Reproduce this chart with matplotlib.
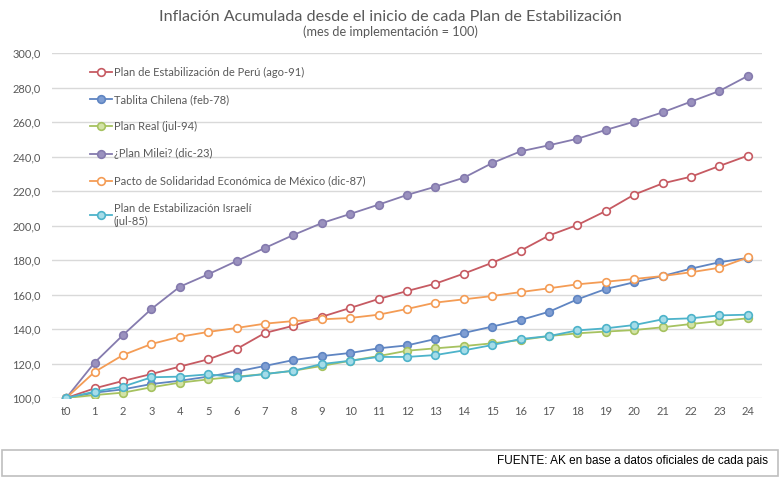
import matplotlib
matplotlib.use("Agg")
import matplotlib.pyplot as plt
from matplotlib.patches import Rectangle

plt.rcParams['font.family'] = ['Lato', 'DejaVu Sans']

months = ["t0"] + [str(i) for i in range(1, 25)]

peru = [100.0, 105.6, 109.9, 113.9, 118.2, 122.4, 128.4, 137.7, 141.9, 147.1, 152.2, 157.4, 162.0,
        166.3, 172.1, 178.4, 185.4, 194.2, 200.3, 208.4, 217.9, 224.4, 228.3, 234.5, 240.5]
chile = [100.0, 103.1, 105.0, 108.1, 110.0, 112.4, 115.3, 118.6, 122.0, 124.3, 126.1, 128.8, 130.5,
         134.2, 137.7, 141.4, 145.2, 150.0, 157.2, 163.2, 167.1, 170.7, 175.0, 178.7, 181.2]
real = [100.0, 101.7, 103.1, 106.2, 108.9, 110.8, 112.4, 113.9, 115.8, 118.6, 121.6, 124.3, 127.4,
        128.8, 130.1, 131.7, 133.6, 135.9, 137.5, 138.5, 139.4, 141.0, 142.9, 144.6, 146.2]
milei = [100.0, 120.5, 136.5, 151.6, 164.5, 171.7, 179.4, 187.0, 194.5, 201.4, 206.7, 212.1, 217.7,
         222.5, 227.7, 236.2, 243.0, 246.5, 250.3, 255.4, 260.2, 265.6, 271.8, 278.0, 286.7]
mexico = [100.0, 115.1, 124.9, 131.3, 135.5, 138.3, 140.6, 143.1, 144.6, 145.6, 146.4, 148.3, 151.6,
          155.3, 157.2, 159.1, 161.4, 163.6, 165.9, 167.4, 169.0, 170.7, 172.9, 175.5, 181.5]
israel = [100.0, 103.7, 106.6, 112.0, 112.4, 113.7, 112.0, 113.9, 115.8, 119.7, 121.6, 123.8, 123.8,
          124.9, 127.6, 130.7, 134.2, 135.9, 139.2, 140.4, 142.3, 145.6, 146.2, 147.9, 148.3]

labels = ["Plan de Estabilización de Perú (ago-91)",
          "Tablita Chilena (feb-78)",
          "Plan Real (jul-94)",
          "¿Plan Milei? (dic-23)",
          "Pacto de Solidaridad Económica de México (dic-87)",
          "Plan de Estabilización Israelí\n(jul-85)"]

series = [peru, chile, real, milei, mexico, israel]
line_colors = ['#C65A62', '#5F85C2', '#A6C260', '#857BAE', '#F49C55', '#4DB3CA']
face_colors = ['#FFFFFF', '#7F9ED3', '#D3E3A6', '#9A91BE', '#FFFFFF', '#A5DCE8']

fig = plt.figure(figsize=(7.8, 4.78), dpi=100)
ax = fig.add_axes([52/780, 80/478, 710/780, 345/478])

x = list(range(len(months)))
for s, lab, lc, fc in zip(series, labels, line_colors, face_colors):
    ax.plot(x, s, color=lc, lw=1.3, marker='o', markersize=5.5,
            markerfacecolor=fc, markeredgecolor=lc, markeredgewidth=1.2, label=lab)

ax.set_xlim(-0.5, len(months) - 0.5)
ax.set_ylim(100, 300)
ax.set_yticks(range(100, 301, 20))
ax.set_yticklabels([f"{v},0" for v in range(100, 301, 20)])
ax.set_xticks(x)
ax.set_xticklabels(months)
ax.grid(axis='y', color='#D9D9D9', lw=1.0)
ax.set_axisbelow(True)
for sp in ax.spines.values():
    sp.set_visible(False)
ax.tick_params(axis='both', length=0, labelsize=8, labelcolor='#595959')
ax.tick_params(axis='x', pad=6)
ax.tick_params(axis='y', pad=8)

leg = ax.legend(loc='upper left', bbox_to_anchor=(80/780, 421/478), bbox_transform=fig.transFigure,
                frameon=False, fontsize=8, handlelength=2.0, handletextpad=0.15,
                labelspacing=1.45, labelcolor='#595959')

fig.text(0.5, 1 - 17/478, "Inflación Acumulada desde el inicio de cada Plan de Estabilización",
         ha='center', va='center', fontsize=11.6, color='#595959')
fig.text(0.5, 1 - 32/478, "(mes de implementación = 100)",
         ha='center', va='center', fontsize=9.2, color='#595959')

fig.patches.append(Rectangle((2/780, 2/478), 776/780, 26/478, transform=fig.transFigure,
                             fill=False, edgecolor='#BFBFBF', lw=1.2))
fig.text(768/780, 1 - 461/478, "FUENTE: AK en base a datos oficiales de cada pais",
         ha='right', va='center', fontsize=8.5, color='#000000',
         family=['Liberation Sans', 'DejaVu Sans'])

fig.savefig("out.png", dpi=100)
